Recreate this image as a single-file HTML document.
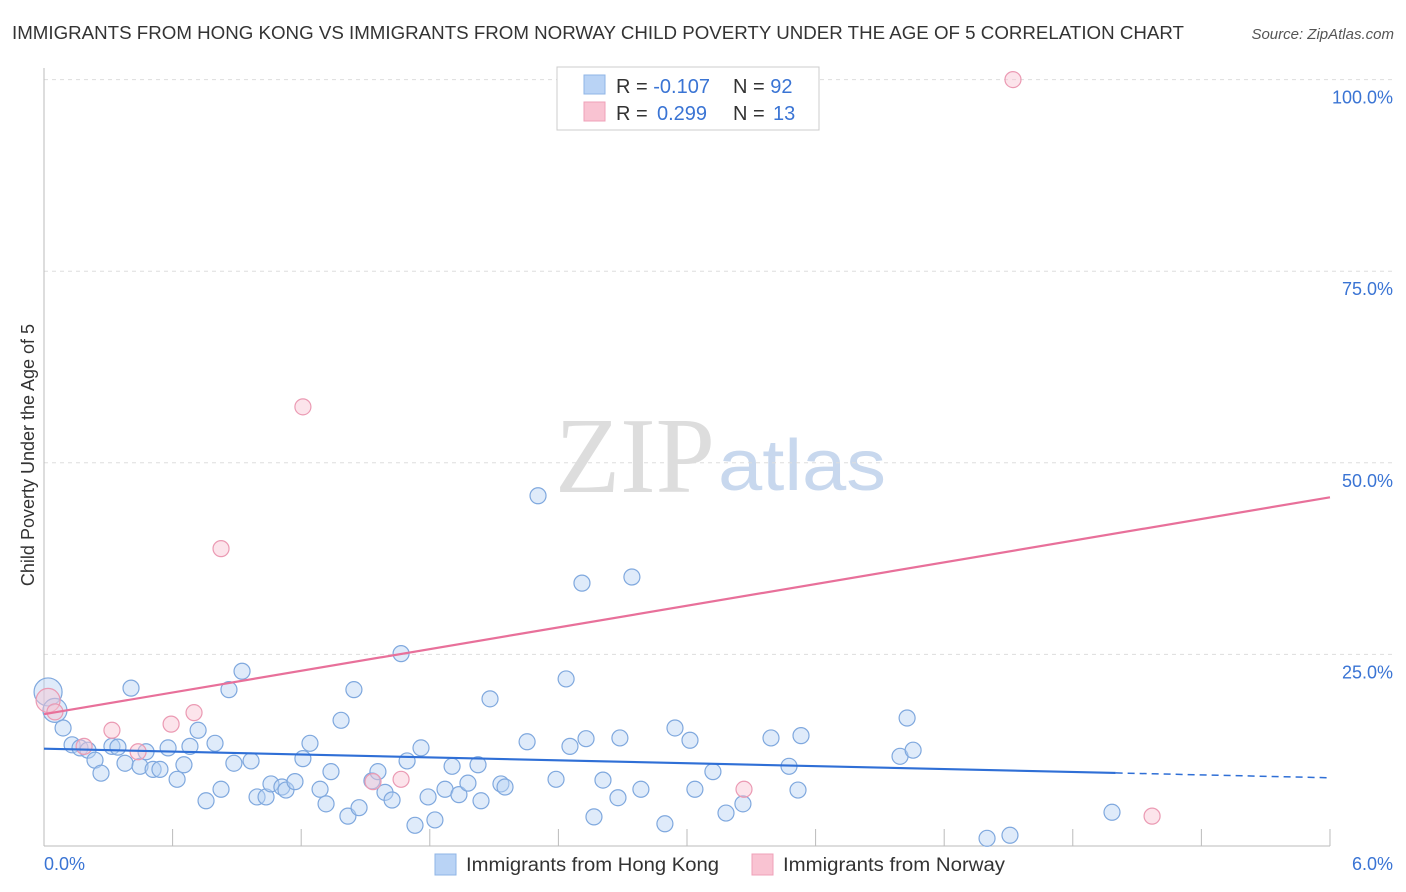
<!DOCTYPE html>
<html><head><meta charset="utf-8"><style>
body{margin:0;background:#fff;font-family:"Liberation Sans",sans-serif;}
svg{display:block}
</style></head><body>
<svg id="chart" width="1406" height="892">
<text x="12" y="39" font-size="18" fill="#333" textLength="1172" lengthAdjust="spacingAndGlyphs">IMMIGRANTS FROM HONG KONG VS IMMIGRANTS FROM NORWAY CHILD POVERTY UNDER THE AGE OF 5 CORRELATION CHART</text>
<text x="1394" y="39" font-size="15" fill="#555" font-style="italic" text-anchor="end">Source: ZipAtlas.com</text>
<text x="555" y="492" font-size="108" fill="#ddd" font-family="Liberation Serif,serif" textLength="160" lengthAdjust="spacingAndGlyphs">ZIP</text>
<text x="718" y="490" font-size="72" fill="#c8d8ee" textLength="168" lengthAdjust="spacingAndGlyphs">atlas</text>
<text transform="translate(34,455) rotate(-90)" font-size="18" fill="#333" text-anchor="middle">Child Poverty Under the Age of 5</text>
<g id="grid"></g><g id="marks"></g>
<g>
<rect x="557" y="67" width="262" height="63" fill="#fff" stroke="#ccc"/>
<rect x="584" y="75" width="21" height="19" fill="#b9d3f5" stroke="#8fb4e6"/>
<rect x="584" y="102" width="21" height="19" fill="#f9c3d2" stroke="#efa0b8"/>
<text x="616" y="93" font-size="20" fill="#333">R = <tspan fill="#3a74d4">-0.107</tspan><tspan x="733">N = </tspan><tspan fill="#3a74d4">92</tspan></text>
<text x="616" y="120" font-size="20" fill="#333">R = <tspan x="657" fill="#3a74d4">0.299</tspan><tspan x="733">N = </tspan><tspan x="773" fill="#3a74d4">13</tspan></text>
</g>
<g>
<rect x="435" y="854" width="21" height="21" fill="#b9d3f5" stroke="#8fb4e6"/>
<text x="466" y="871" font-size="19" fill="#333" textLength="253" lengthAdjust="spacingAndGlyphs">Immigrants from Hong Kong</text>
<rect x="752" y="854" width="21" height="21" fill="#f9c3d2" stroke="#efa0b8"/>
<text x="783" y="871" font-size="19" fill="#333" textLength="222" lengthAdjust="spacingAndGlyphs">Immigrants from Norway</text>
</g>
</svg>
<script>
const yTicks=[100,75,50,25];
const yTickLabels=["100.0%","75.0%","50.0%","25.0%"];
const xTickLabels=["0.0%","6.0%"];
const blueX=[.019,.051,.089,.131,.168,.205,.238,.266,.317,.345,.378,.406,.448,.476,.509,.541,.579,.621,.653,.681,.719,.756,.798,.826,.863,.886,.924,.966,.994,1.036,1.059,1.110,1.129,1.171,1.208,1.241,1.288,1.316,1.339,1.386,1.418,1.446,1.470,1.530,1.558,1.591,1.624,1.666,1.694,1.731,1.759,1.792,1.824,1.871,1.904,1.936,1.978,2.025,2.039,2.081,2.132,2.151,2.254,2.305,2.389,2.436,2.454,2.510,2.529,2.566,2.608,2.678,2.687,2.743,2.785,2.897,2.944,3.014,3.037,3.121,3.182,3.261,3.392,3.476,3.518,3.532,3.994,4.027,4.055,4.400,4.507,4.983];
const blueY=[20.1,17.7,15.4,13.2,12.8,12.5,11.2,9.5,13.0,12.9,10.8,20.6,10.4,12.3,10.0,10.0,12.8,8.7,10.6,13.0,15.1,5.9,13.4,7.4,20.4,10.8,22.8,11.1,6.4,6.4,8.1,7.7,7.3,8.4,11.4,13.4,7.4,5.5,9.7,16.4,3.9,20.4,5.0,8.5,9.7,7.0,6.0,25.1,11.1,2.7,12.8,6.4,3.4,7.4,10.4,6.7,8.2,10.6,5.9,19.2,8.1,7.7,13.6,45.7,8.7,21.8,13.0,34.3,14.0,3.8,8.6,6.3,14.1,35.1,7.4,2.9,15.4,13.8,7.4,9.7,4.3,5.5,14.1,10.4,7.3,14.4,11.7,16.7,12.5,1.0,1.4,4.4];
const pinkX=[.019,.051,.187,.317,.439,.593,.700,.826,1.208,1.535,1.666,3.266,4.521,5.170];
const pinkY=[19.0,17.5,13.0,15.1,12.3,15.9,17.4,38.8,57.3,8.4,8.7,7.4,100,3.9];
const blueTrend=[12.7,8.9];
const pinkTrend=[17.2,45.5];
const NS="http://www.w3.org/2000/svg";
const X=v=>44+v*214.33, Y=v=>846-v*7.664;
function mk(t,a,p){const e=document.createElementNS(NS,t);for(const k in a)e.setAttribute(k,a[k]);p.appendChild(e);return e;}
const g=document.getElementById('grid'),m=document.getElementById('marks');
yTicks.forEach((t,i)=>{const l=mk('line',{x1:44,x2:1394,y1:Y(t),y2:Y(t),stroke:'#ddd','stroke-dasharray':'4,4'},g);


const tx=mk('text',{x:1393,y:Y(t)+24,'font-size':18,fill:'#3a74d4','text-anchor':'end'},g);tx.textContent=yTickLabels[i];

});
const ax=mk('line',{x1:44,x2:1330,y1:846,y2:846,stroke:'#bbb'},g);


const ay=mk('line',{x1:44,x2:44,y1:68,y2:846,stroke:'#bbb'},g);


for(let i=0;i<=10;i++){const t=mk('line',{x1:X(i*0.6),x2:X(i*0.6),y1:829,y2:846,stroke:'#bbb'},g);

}
xTickLabels.forEach((s,i)=>{const t=mk('text',{x:i?1393:44,y:870,'font-size':18,fill:'#3a74d4','text-anchor':i?'end':'start'},g);t.textContent=s;

});
blueX.forEach((x,i)=>{const r=i==0?14:i==1?12:8;const c=mk('circle',{cx:X(x),cy:Y(blueY[i]),r:r,fill:'rgba(185,211,245,0.45)',stroke:'#7fa8de','stroke-width':1.2},m);

});
pinkX.forEach((x,i)=>{const r=i==0?12:8;const c=mk('circle',{cx:X(x),cy:Y(pinkY[i]),r:r,fill:'rgba(249,195,210,0.45)',stroke:'#eb9ab3','stroke-width':1.2},m);

});
const bAt=x=>blueTrend[0]+(blueTrend[1]-blueTrend[0])*x/6;
const b1=mk('line',{x1:X(0),y1:Y(bAt(0)),x2:X(5),y2:Y(bAt(5)),stroke:'#2f6fd6','stroke-width':2.2},m);


const b2=mk('line',{x1:X(5),y1:Y(bAt(5)),x2:X(6),y2:Y(bAt(6)),stroke:'#2f6fd6','stroke-width':1.5,'stroke-dasharray':'7,5'},m);


const p1=mk('line',{x1:X(0),y1:Y(pinkTrend[0]),x2:X(6),y2:Y(pinkTrend[1]),stroke:'#e8709a','stroke-width':2.2},m);


</script>
</body></html>
